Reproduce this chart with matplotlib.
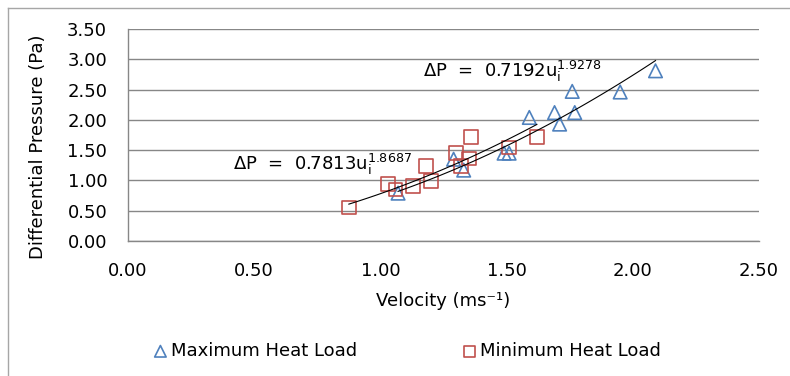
import numpy as np
import matplotlib
matplotlib.use('Agg')
import matplotlib.pyplot as plt
from matplotlib.lines import Line2D

# max heat load points
max_u = [1.07, 1.29, 1.33, 1.49, 1.51, 1.59, 1.69, 1.71, 1.76, 1.77, 1.95, 2.09]
max_dp = [0.79, 1.35, 1.17, 1.45, 1.45, 2.04, 2.12, 1.93, 2.47, 2.12, 2.46, 2.81]

# min heat load points
min_u = [0.875, 1.03, 1.06, 1.13, 1.18, 1.20, 1.30, 1.32, 1.35, 1.36, 1.51, 1.62]
min_dp = [0.55, 0.94, 0.85, 0.91, 1.24, 0.99, 1.45, 1.24, 1.36, 1.72, 1.54, 1.72]

# power-law trendlines  dP = a * u^b
max_fit = (0.7192, 1.9278)
min_fit = (0.7813, 1.8687)

x_ticks = [0.0, 0.5, 1.0, 1.5, 2.0, 2.5]
y_ticks = [0.0, 0.5, 1.0, 1.5, 2.0, 2.5, 3.0, 3.5]

blue = '#4f81bd'
red = '#c0504d'
grid_col = '#878787'

plt.rcParams['font.family'] = ['DejaVu Sans']
plt.rcParams['mathtext.fontset'] = 'dejavusans'

fig = plt.figure(figsize=(7.9, 3.76), dpi=100)
ax = fig.add_axes([128 / 790, 1 - 241 / 376, 631 / 790, 212 / 376])

# outer chart frame, only left and top edges are in view
fx, fy = 7.5 / 790, 1 - 7.5 / 376
fig.add_artist(Line2D([fx, fx], [0, fy], transform=fig.transFigure,
                      color='#a6a6a6', lw=1.0))
fig.add_artist(Line2D([fx, 1], [fy, fy], transform=fig.transFigure,
                      color='#a6a6a6', lw=1.0))

ax.scatter(max_u, max_dp, marker='^', s=95, facecolors='none',
           edgecolors=blue, linewidths=1.2, label='Maximum Heat Load', zorder=3)
ax.scatter(min_u, min_dp, marker='s', s=95, facecolors='none',
           edgecolors=red, linewidths=1.2, label='Minimum Heat Load', zorder=3)

u1 = np.linspace(min(max_u), max(max_u), 100)
ax.plot(u1, max_fit[0] * u1 ** max_fit[1], color='black', lw=0.8, zorder=4)
u2 = np.linspace(min(min_u), max(min_u), 100)
ax.plot(u2, min_fit[0] * u2 ** min_fit[1], color='black', lw=0.8, zorder=4)

ax.text(1.169, 2.70, r'$\Delta$P  =  0.7192u$_\mathrm{i}^{\mathrm{1.9278}}$',
        fontsize=13, va='baseline', ha='left')
ax.text(0.416, 1.175, r'$\Delta$P  =  0.7813u$_\mathrm{i}^{\mathrm{1.8687}}$',
        fontsize=13, va='baseline', ha='left')

ax.set_xlim(0, 2.5)
ax.set_ylim(0, 3.5)
ax.set_xticks(x_ticks)
ax.set_yticks(y_ticks)
ax.set_xticklabels([f'{v:.2f}' for v in x_ticks])
ax.set_yticklabels([f'{v:.2f}' for v in y_ticks])
ax.tick_params(length=0, labelsize=13, colors='black')
ax.tick_params(axis='x', pad=15)
ax.tick_params(axis='y', pad=15)

ax.grid(axis='y', color=grid_col, lw=1.0)
ax.set_axisbelow(True)
for s in ['top', 'right']:
    ax.spines[s].set_visible(False)
for s in ['left', 'bottom']:
    ax.spines[s].set_color(grid_col)
    ax.spines[s].set_linewidth(1.0)

ax.set_xlabel('Velocity (ms⁻¹)', fontsize=13)
ax.xaxis.set_label_coords(0.5, -0.24)
ax.set_ylabel('Differential Pressure (Pa)', fontsize=13)
ax.yaxis.set_label_coords(-0.128, 0.443)

fig.legend(loc='center', bbox_to_anchor=(408 / 790, 1 - 351 / 376), ncol=2,
           frameon=False, fontsize=13, handlelength=0.6, handletextpad=0.3,
           columnspacing=5.9, markerscale=0.85, scatterpoints=1)

fig.savefig('out.png', dpi=100)
